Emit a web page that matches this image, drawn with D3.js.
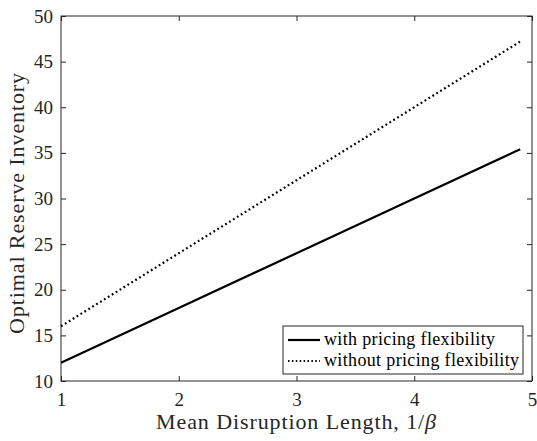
<!DOCTYPE html>
<html>
<head>
<meta charset="utf-8">
<script src="https://cdn.jsdelivr.net/npm/d3@7"></script>
<style>
body{margin:0;background:#fff;}
svg{display:block;}
</style>
</head>
<body>
<svg id="chart" width="537" height="441"></svg>
<script>
const xValues = [1, 2, 3, 4, 4.9];
const withFlex = [12, 18, 24, 30, 35.4];
const withoutFlex = [16, 24, 32, 40, 47.2];
const xTicks = [1, 2, 3, 4, 5];
const yTicks = [10, 15, 20, 25, 30, 35, 40, 45, 50];
const seriesNames = ["with pricing flexibility", "without pricing flexibility"];
const xTitle = "Mean Disruption Length, 1/";
const yTitle = "Optimal Reserve Inventory";

const FONT = "Liberation Serif, DejaVu Serif, serif";
const svg = d3.select("#chart");
const m = {l:61, r:532, t:16, b:381};
const x = d3.scaleLinear().domain([1,5]).range([m.l, m.r]);
const y = d3.scaleLinear().domain([10,50]).range([m.b, m.t]);
const axCol = "#262626";

svg.append("rect").attr("x", m.l).attr("y", m.t).attr("width", m.r-m.l).attr("height", m.b-m.t)
  .attr("fill","none").attr("stroke", axCol).attr("stroke-width",1);

const tl = 5;
const gx = svg.append("g").attr("transform",`translate(0,${m.b})`)
  .call(d3.axisBottom(x).tickValues(xTicks).tickSize(-tl).tickPadding(12).tickFormat(d3.format("d")));
const gxt = svg.append("g").attr("transform",`translate(0,${m.t})`)
  .call(d3.axisTop(x).tickValues(xTicks).tickSize(-tl).tickFormat(""));
const gy = svg.append("g").attr("transform",`translate(${m.l},0)`)
  .call(d3.axisLeft(y).tickValues(yTicks).tickSize(-tl).tickPadding(8).tickFormat(d3.format("d")));
const gyr = svg.append("g").attr("transform",`translate(${m.r},0)`)
  .call(d3.axisRight(y).tickValues(yTicks).tickSize(-tl).tickFormat(""));
[gx,gxt,gy,gyr].forEach(g=>{
  g.attr("font-family", FONT).attr("font-size", 19);
  g.select(".domain").remove();
  g.selectAll(".tick line").attr("stroke", axCol);
  g.selectAll("text").attr("fill","#262626");
});
gx.selectAll("text").attr("dy","0.71em");

const line = d3.line().x((d,i)=>x(xValues[i])).y(d=>y(d));
svg.append("path").datum(withFlex).attr("d", line).attr("fill","none")
  .attr("stroke","#000").attr("stroke-width",2.2);
svg.append("path").datum(withoutFlex).attr("d", line).attr("fill","none")
  .attr("stroke","#000").attr("stroke-width",2.2).attr("stroke-dasharray","1.8,2.8");

svg.append("text").attr("x",(m.l+m.r)/2).attr("y",429).attr("text-anchor","middle")
  .attr("font-family", FONT).attr("font-size",22).attr("letter-spacing",0.9).attr("fill","#262626")
  .text(xTitle).append("tspan").attr("font-style","italic").text("β");
svg.append("text").attr("transform",`translate(24,203) rotate(-90)`)
  .attr("font-family", FONT).attr("fill","#262626").attr("letter-spacing",0.9)
  .attr("text-anchor","middle").attr("font-size",22).text(yTitle);

const lg = svg.append("g");
lg.append("rect").attr("x",283).attr("y",326).attr("width",240).attr("height",48)
  .attr("fill","#fff").attr("stroke",axCol).attr("stroke-width",1);
const rows = [340, 361];
seriesNames.forEach((n,i)=>{
  lg.append("line").attr("x1",288).attr("x2",320).attr("y1",rows[i]).attr("y2",rows[i])
    .attr("stroke","#000").attr("stroke-width", i===0?2.2:2)
    .attr("stroke-dasharray", i===0?null:"1.5,2.4");
  lg.append("text").attr("x",324).attr("y",rows[i]+5).attr("font-family", FONT)
    .attr("font-size",18).attr("letter-spacing",0.35).attr("fill","#000").text(n);
});
</script>
</body>
</html>
